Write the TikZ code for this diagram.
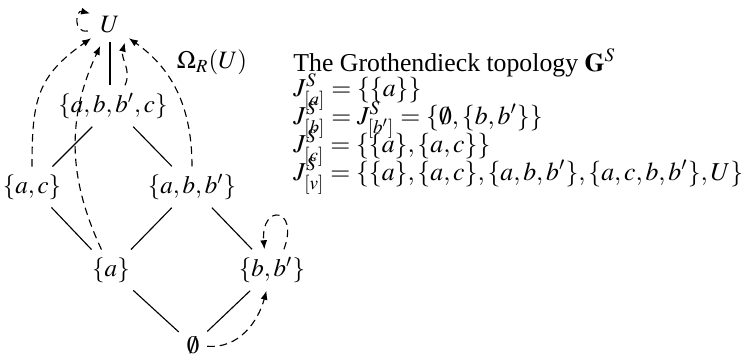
\documentclass[tikz,border=0pt]{standalone}
\usepackage{amsmath}
\usepackage{mathptmx}
\usepackage[no-math]{fontspec}
\setmainfont{Liberation Serif}
\usetikzlibrary{arrows.meta}

\begin{document}
\begin{tikzpicture}[
	x=0.4pt, y=0.4pt,
	every node/.style={font=\normalsize},
	setnode/.style={inner sep=3pt},
	topnode/.style={circle, inner sep=0pt, minimum size=18pt},
	order/.style={line width=0.45pt},
	cover/.style={
		-{Latex[length=3.6pt,width=2.8pt]},
		dash pattern=on 3pt off 2pt, line width=0.45pt
	},
	textline/.style={anchor=base west, inner sep=0pt,
		font=\fontsize{10.3}{12.4}\selectfont}
	]
	
	\useasboundingbox (0,0) rectangle (743,355);
	
	% Lattice
	\node[topnode] (U)     at (110,330) {$U$};
	\node[setnode] (abbc)  at (113,249) {$\{a,b,b',c\}$};
	\node[setnode] (ac)    at (32,168)  {$\{a,c\}$};
	\node[setnode] (abb)   at (192,168) {$\{a,b,b'\}$};
	\node[setnode] (a)     at (111,85)  {$\{a\}$};
	\node[setnode] (bb)    at (272,85)  {$\{b,b'\}$};
	\node[setnode] (empty) at (193,10)  {$\emptyset$};
	\node (omega) at (212,293) {$\Omega_R(U)$};
	
	% Order
	\draw[order, shorten <=-2.5pt] (U) -- (U |- abbc.north);
	\draw[order] (abbc) -- (ac);
	\draw[order] (abbc) -- (abb);
	\draw[order] (ac)   -- (a);
	\draw[order] (abb)  -- (a);
	\draw[order] (abb)  -- (bb);
	\draw[order] (a)    -- (empty);
	\draw[order] (bb)   -- (empty);
	
	% Covers
	\draw[cover] (ac.north) to[out=90,in=-145,looseness=1.2] (U);
	\draw[cover] (a) to[out=115,in=-115] (U);
	\draw[cover] (abbc.60) to[out=65,in=-105] (U.-50);
	\draw[cover] (abb) to[out=90,in=-35] (U);
	\draw[cover] (U.-165) to[out=-170,in=165,looseness=2.2] (U.150);
	\draw[cover] (bb.60) to[out=70,in=95,looseness=6] (bb.110);
	\draw[cover] (empty) to[out=-5,in=-105] (bb);
	
	% Topology
	\node[textline] (title) at (293,284) {The Grothendieck topology $\mathbf{G}^S$};
	\node[textline] (ja) at (293,259) {$J^S_{[a]}=\{\{a\}\}$};
	\node[textline] (jb) at (293,231) {$J^S_{[b]}=J^S_{[b']}=\{\emptyset,\{b,b'\}\}$};
	\node[textline] (jc) at (293,203) {$J^S_{[c]}=\{\{a\},\{a,c\}\}$};
	\node[textline] (jv) at (293,175) {$J^S_{[v]}=\{\{a\},\{a,c\},\{a,b,b'\},\{a,c,b,b'\},U\}$};
	
\end{tikzpicture}
\end{document}
